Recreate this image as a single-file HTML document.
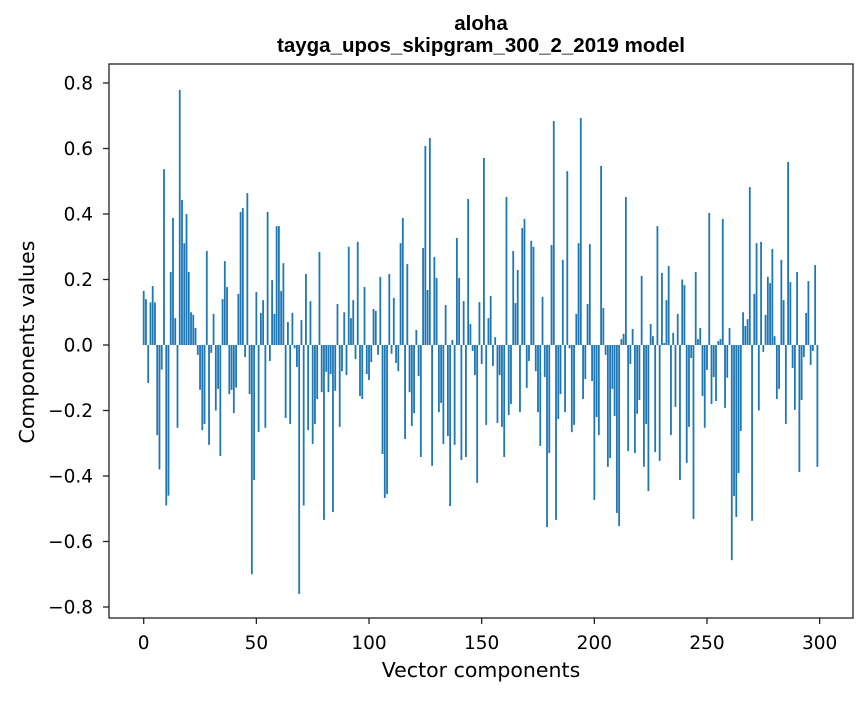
<!DOCTYPE html>
<html><head><meta charset="utf-8"><style>
body{margin:0;background:#fff}
svg text{font-family:"DejaVu Sans","Liberation Sans",sans-serif;fill:#000}
</style></head><body>
<svg id="chart" width="867" height="696" xmlns="http://www.w3.org/2000/svg">
<rect width="867" height="696" fill="#fff"/>
<g id="bars"></g>
<g id="axes"></g>
<text x="481" y="30" text-anchor="middle" font-size="20.5" font-weight="bold" style="font-family:'Liberation Sans',sans-serif">aloha</text>
<text x="481" y="52" text-anchor="middle" font-size="20.5" font-weight="bold" style="font-family:'Liberation Sans',sans-serif">tayga_upos_skipgram_300_2_2019 model</text>
<text x="481" y="677" text-anchor="middle" font-size="20.5">Vector components</text>
<text transform="translate(34,342) rotate(-90)" text-anchor="middle" font-size="20.5">Components values</text>
</svg>
<script>
const values = [
0.165,0.14,-0.116,0.13,0.18,0.13,-0.275,-0.38,-0.075,0.537,
-0.49,-0.46,0.223,0.388,0.082,-0.253,0.779,0.443,0.311,0.40,
0.223,0.10,0.092,0.052,-0.03,-0.137,-0.26,-0.241,0.287,-0.305,
-0.024,0.095,-0.20,-0.134,-0.339,0.14,0.256,0.177,-0.15,-0.137,
-0.208,-0.13,0.156,0.406,0.418,-0.037,0.464,-0.15,-0.70,-0.412,
0.162,-0.266,0.098,0.137,-0.253,0.406,-0.049,0.198,0.095,0.363,
0.363,0.165,0.25,-0.223,0.07,-0.241,0.098,-0.01,-0.067,-0.76,
0.076,-0.49,0.217,-0.26,0.134,-0.302,-0.241,-0.165,0.284,-0.144,
-0.534,-0.082,-0.144,-0.089,-0.51,-0.14,0.125,-0.25,-0.08,0.10,
-0.092,0.30,0.082,0.137,-0.043,0.315,-0.156,-0.165,0.177,-0.089,
-0.107,-0.052,0.11,0.104,-0.03,0.208,-0.333,-0.467,-0.455,0.217,
-0.027,0.144,-0.055,-0.08,0.311,0.388,-0.287,0.247,-0.144,-0.247,
-0.208,0.046,-0.095,-0.342,0.296,0.608,0.168,0.632,-0.369,0.269,
0.205,-0.205,-0.177,-0.302,0.122,-0.278,-0.492,0.015,-0.305,0.327,
0.205,-0.351,0.134,-0.342,0.446,0.064,-0.018,-0.092,-0.421,0.131,
-0.058,0.571,-0.244,0.082,0.15,-0.064,0.024,-0.238,-0.092,-0.25,
-0.342,0.452,-0.214,-0.18,0.287,0.128,0.229,-0.205,0.357,0.385,
-0.131,-0.049,0.318,0.30,-0.08,-0.205,-0.308,0.147,-0.098,-0.556,
-0.33,0.305,0.684,-0.534,-0.226,-0.15,0.26,-0.205,0.531,-0.01,
-0.266,-0.244,0.095,0.311,0.693,-0.165,-0.104,0.125,0.308,-0.11,
-0.473,-0.22,-0.275,0.547,0.113,-0.03,-0.372,-0.345,-0.134,-0.217,
-0.513,-0.553,0.018,0.034,0.452,-0.324,-0.058,0.049,-0.33,-0.21,
-0.168,0.211,-0.372,-0.241,-0.446,0.064,0.027,-0.327,0.363,-0.354,
0.22,0.006,0.137,0.241,-0.275,0.037,-0.189,0.095,-0.412,0.20,
0.183,-0.36,-0.25,-0.04,-0.531,0.223,0.018,0.052,-0.156,-0.253,
-0.076,0.403,-0.18,-0.098,-0.171,0.012,0.018,0.385,-0.192,-0.10,
0.052,-0.657,-0.461,-0.525,-0.391,-0.263,0.10,0.058,0.079,0.482,
-0.537,0.156,0.311,-0.20,0.315,-0.021,0.092,0.208,0.189,0.293,
0.027,-0.165,-0.134,0.26,0.137,-0.241,0.559,0.192,-0.07,-0.198,
0.223,-0.388,-0.168,-0.037,0.098,0.195,-0.061,-0.018,0.244,-0.372
];
const xTicks = [0,50,100,150,200,250,300];
const yTicks = [-0.8,-0.6,-0.4,-0.2,0.0,0.2,0.4,0.6,0.8];

const L=109,R=853,T=64,B=618;
const xMin=-15.4,xMax=314.8,yMin=-0.8336,yMax=0.858;
const xs=v=>L+(v-xMin)/(xMax-xMin)*(R-L);
const ys=v=>B-(v-yMin)/(yMax-yMin)*(B-T);
const NS="http://www.w3.org/2000/svg";
const bars=document.getElementById('bars');
values.forEach((v,i)=>{
  const r=document.createElementNS(NS,'rect');
  const x0=xs(i-0.4),x1=xs(i+0.4);
  const y0=ys(Math.max(v,0)),y1=ys(Math.min(v,0));
  r.setAttribute('x',x0);r.setAttribute('width',x1-x0);
  r.setAttribute('y',y0);r.setAttribute('height',Math.max(y1-y0,0.01));
  r.setAttribute('fill','#1f77b4');
  
  
  bars.appendChild(r);
});
const ax=document.getElementById('axes');
const fr=document.createElementNS(NS,'rect');
fr.setAttribute('x',L);fr.setAttribute('y',T);fr.setAttribute('width',R-L);fr.setAttribute('height',B-T);
fr.setAttribute('fill','none');fr.setAttribute('stroke','#222');fr.setAttribute('stroke-width','1.3');


ax.appendChild(fr);
xTicks.forEach(t=>{
  const x=xs(t);
  const l=document.createElementNS(NS,'line');
  l.setAttribute('x1',x);l.setAttribute('x2',x);l.setAttribute('y1',B);l.setAttribute('y2',B+6);l.setAttribute('stroke','#222');l.setAttribute('stroke-width','1.3');
  
  
  ax.appendChild(l);
  const tx=document.createElementNS(NS,'text');
  tx.setAttribute('x',x);tx.setAttribute('y',649);tx.setAttribute('text-anchor','middle');tx.setAttribute('font-size','18.5');
  tx.textContent=String(t);
  
  
  ax.appendChild(tx);
});
yTicks.forEach(t=>{
  const y=ys(t);
  const l=document.createElementNS(NS,'line');
  l.setAttribute('x1',L-6);l.setAttribute('x2',L);l.setAttribute('y1',y);l.setAttribute('y2',y);l.setAttribute('stroke','#222');l.setAttribute('stroke-width','1.3');
  
  
  ax.appendChild(l);
  const tx=document.createElementNS(NS,'text');
  tx.setAttribute('x',L-16);tx.setAttribute('y',y+6.5);tx.setAttribute('text-anchor','end');tx.setAttribute('font-size','18.5');
  tx.textContent=(t<0?'\u2212':'')+Math.abs(t).toFixed(1);
  
  
  ax.appendChild(tx);
});
</script>
</body></html>
